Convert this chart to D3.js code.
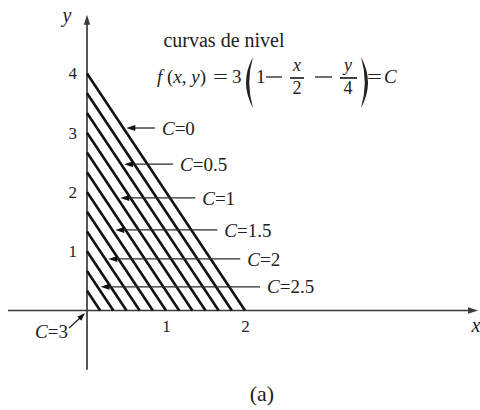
<!DOCTYPE html>
<html>
<head>
<meta charset="utf-8">
<script src="https://cdn.jsdelivr.net/npm/d3@7"></script>
<style>
  html, body { margin: 0; padding: 0; background: #fff; }
</style>
</head>
<body>
<svg id="chart" width="480" height="410"></svg>
<script>
// Level values of f(x,y) = 3(1 - x/2 - y/4) drawn as contour lines
const levels = [0, 0.25, 0.5, 0.75, 1, 1.25, 1.5, 1.75, 2, 2.25, 2.5, 2.75];
// Labelled levels, the height (y) of each pointer arrow and the x where its tail starts
const labelLevels = [0, 0.5, 1, 1.5, 2, 2.5];
const labelText = ["0", "0.5", "1", "1.5", "2", "2.5"];
const arrowY = [3.08, 2.47, 1.90, 1.36, 0.87, 0.40];
const arrowTailX = [0.86, 1.09, 1.37, 1.65, 1.94, 2.19];
// Tick labels
const xTicks = [1, 2];
const yTicks = [1, 2, 3, 4];
// Axis extents
const xExtent = [-1.0, 4.95];
const yExtent = [-1.0, 4.99];

const SERIF = "'Liberation Serif', 'Times New Roman', Times, 'DejaVu Serif', serif";

const svg = d3.select("#chart").attr("font-family", SERIF);
const x = d3.scaleLinear().domain([0, 2]).range([87, 245]);
const y = d3.scaleLinear().domain([0, 4]).range([310.5, 73.5]);

const ink = "#111";
const axisInk = "#3a3a3a";
const txt = "#222";

function label(g, px, py, size) {
  return g.append("text").attr("x", px).attr("y", py)
    .attr("font-family", SERIF).attr("font-size", size).attr("fill", txt);
}

// "C=value" with a wide equals sign
function cLabel(t, value) {
  t.append("tspan").attr("font-style", "italic").text("C");
  t.append("tspan").attr("dx", 1).text("=");
  t.append("tspan").attr("dx", -1.5).text("=").attr("fill-opacity", 0).attr("font-size", 0.1);
  t.append("tspan").attr("dx", 1).text(value);
}

// arrowhead helper: filled triangle with tip at (tx,ty) pointing along angle
function arrowHead(g, tx, ty, angle, len, half, color) {
  const ca = Math.cos(angle), sa = Math.sin(angle);
  const bx = tx - len * ca, by = ty - len * sa;
  const pts = [
    [tx, ty],
    [bx - half * sa, by + half * ca],
    [bx + half * sa, by - half * ca]
  ];
  g.append("path")
    .attr("d", "M" + pts.map(p => p.join(",")).join("L") + "Z")
    .attr("fill", color);
}

// axes
const axes = svg.append("g");
axes.append("line")
  .attr("x1", x(xExtent[0])).attr("x2", x(xExtent[1]) - 6)
  .attr("y1", y(0)).attr("y2", y(0))
  .attr("stroke", axisInk).attr("stroke-width", 1.7);
arrowHead(axes, x(xExtent[1]), y(0), 0, 10, 3.2, axisInk);
axes.append("line")
  .attr("x1", x(0)).attr("x2", x(0))
  .attr("y1", y(yExtent[0])).attr("y2", y(yExtent[1]) + 6)
  .attr("stroke", axisInk).attr("stroke-width", 1.7);
arrowHead(axes, x(0), y(yExtent[1]), -Math.PI / 2, 10, 3.2, axisInk);

// tick labels via d3 axes (no tick marks, no domain line)
const xAxis = svg.append("g")
  .attr("transform", `translate(0,${y(0)})`)
  .call(d3.axisBottom(x).tickValues(xTicks).tickSize(0).tickPadding(9).tickFormat(d3.format("d")));
xAxis.attr("font-family", SERIF).attr("font-size", 17);
xAxis.select(".domain").remove();
xAxis.selectAll("text").attr("fill", txt);

const yAxis = svg.append("g")
  .attr("transform", `translate(${x(0)},0)`)
  .call(d3.axisLeft(y).tickValues(yTicks).tickSize(0).tickPadding(10).tickFormat(d3.format("d")));
yAxis.attr("font-family", SERIF).attr("font-size", 17);
yAxis.select(".domain").remove();
yAxis.selectAll("text").attr("fill", txt);

// axis names
label(svg, 67, 22, 20).attr("text-anchor", "middle").attr("font-style", "italic").text("y");
label(svg, 476, 332, 20).attr("text-anchor", "middle").attr("font-style", "italic").text("x");

// contour lines: f(x,y) = C  ->  x/2 + y/4 = 1 - C/3
const f = (xx, yy) => 3 * (1 - xx / 2 - yy / 4);
svg.append("g").selectAll("line")
  .data(levels)
  .join("line")
  .attr("x1", x(0)).attr("y1", c => y(4 * (1 - c / 3)))
  .attr("x2", c => x(2 * (1 - c / 3))).attr("y2", y(0))
  .attr("stroke", ink).attr("stroke-width", 2.6);

// point where the level curve C=3 collapses (origin)
const cOrigin = f(0, 0);

// pointer arrows with labels
const ann = svg.append("g");
labelLevels.forEach((c, i) => {
  const yy = arrowY[i];
  const lx = 2 * (1 - c / 3 - yy / 4);          // x on the level line at height yy
  const tipX = x(lx) + 3, py = y(yy);
  const tailX = x(arrowTailX[i]);
  ann.append("line")
    .attr("x1", tailX).attr("x2", tipX + 7)
    .attr("y1", py).attr("y2", py)
    .attr("stroke", "#2a2a2a").attr("stroke-width", 1.3);
  arrowHead(ann, tipX, py, Math.PI, 9, 3, "#111");
  const t = label(ann, tailX + 7, py, 19).attr("dy", "0.35em");
  t.append("tspan").attr("font-style", "italic").text("C");
  t.append("tspan").text("=" + labelText[i]);
});

// label for C = 3 at the origin
const t3 = label(ann, 68, 331.5, 19).attr("dy", "0.35em").attr("text-anchor", "end");
t3.append("tspan").attr("font-style", "italic").text("C");
t3.append("tspan").text("=" + cOrigin);
ann.append("line")
  .attr("x1", 69).attr("y1", 328).attr("x2", 80).attr("y2", 318)
  .attr("stroke", "#222").attr("stroke-width", 1.3);
arrowHead(ann, 85, 313, -Math.PI / 4, 8, 2.8, "#111");

// title and formula
const title = svg.append("g");
label(title, 224, 47, 20).attr("text-anchor", "middle").text("curvas de nivel");

const eqY = 83;
const eq = label(title, 157, eqY, 19);
eq.append("tspan").attr("font-style", "italic").text("f");
eq.append("tspan").text(" (");
eq.append("tspan").attr("font-style", "italic").text("x");
eq.append("tspan").text(", ");
eq.append("tspan").attr("font-style", "italic").text("y");
eq.append("tspan").text(")");
label(title, 213, eqY, 19).attr("textLength", 15).attr("lengthAdjust", "spacingAndGlyphs").text("=");
label(title, 232, eqY, 19).text("3");

// tall parentheses drawn as crescents
title.append("path")
  .attr("d", "M253,57 Q239,82.5 253,108 Q245.5,82.5 253,57 Z")
  .attr("fill", txt);
title.append("path")
  .attr("d", "M361,57 Q375,82.5 361,108 Q368.5,82.5 361,57 Z")
  .attr("fill", txt);

label(title, 256, eqY, 19).text("1");
title.append("line").attr("x1", 266).attr("x2", 282).attr("y1", 77).attr("y2", 77)
  .attr("stroke", txt).attr("stroke-width", 1.3);
// fraction x/2
label(title, 297, 71, 18).attr("text-anchor", "middle").attr("font-style", "italic").text("x");
title.append("line").attr("x1", 290).attr("x2", 304).attr("y1", 78).attr("y2", 78)
  .attr("stroke", txt).attr("stroke-width", 1.7);
label(title, 297, 94, 18).attr("text-anchor", "middle").text("2");
title.append("line").attr("x1", 315).attr("x2", 332).attr("y1", 77).attr("y2", 77)
  .attr("stroke", txt).attr("stroke-width", 1.3);
// fraction y/4
label(title, 348, 71, 18).attr("text-anchor", "middle").attr("font-style", "italic").text("y");
title.append("line").attr("x1", 340).attr("x2", 357).attr("y1", 78).attr("y2", 78)
  .attr("stroke", txt).attr("stroke-width", 1.7);
label(title, 348, 94, 18).attr("text-anchor", "middle").text("4");
label(title, 367, eqY, 19).attr("textLength", 15).attr("lengthAdjust", "spacingAndGlyphs").text("=");
label(title, 384, eqY, 19).attr("font-style", "italic").text("C");

// panel caption
label(svg, 262, 401, 22).attr("text-anchor", "middle").text("(a)");
</script>
</body>
</html>
